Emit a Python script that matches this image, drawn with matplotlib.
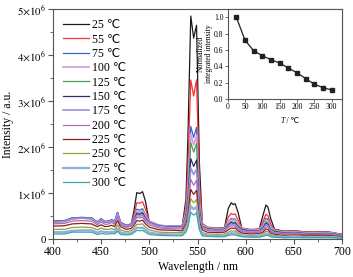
import matplotlib
matplotlib.use("Agg")
import matplotlib.pyplot as plt
from matplotlib.ticker import MultipleLocator, FuncFormatter

plt.rcParams['font.family'] = ['Liberation Serif', 'DejaVu Sans', 'Noto Sans CJK SC']
plt.rcParams['mathtext.fontset'] = 'stix'

# ---------------- data ----------------
temps = ['25', '55', '75', '100', '125', '150', '175', '200', '225', '250', '275', '300']

wavelength = [400, 412, 420, 430, 440, 446, 450, 454, 458, 461, 464, 467, 470, 476, 481,
              484, 487, 490, 493, 496, 500, 510, 525, 534, 538, 540, 543, 546, 549, 552,
              555, 560, 570, 578, 582, 585, 587, 589, 592, 596, 605, 614, 618, 621, 623,
              626, 630, 640, 650, 660, 670, 683, 690, 700]

# intensities in units of 1e6
i25 = [.37, .38, .44, .45, .44, .35, .41, .36, .37, .40, .36, .52, .35, .27, .30, .61, 1.01, .99, 1.03, .82,
       .36, .28, .26, .26, .86, 2.18, 4.85, 4.37, 4.65, 1.63, .32, .25, .23, .24, .67, .79, .75, .77, .59, .23,
       .20, .21, .52, .74, .70, .44, .21, .17, .18, .16, .15, .16, .14, .10]
i55 = [.38, .39, .45, .46, .45, .36, .43, .37, .38, .41, .37, .56, .36, .29, .32, .52, .79, .78, .81, .65,
       .39, .30, .28, .28, .72, 1.56, 3.46, 3.11, 3.46, 1.21, .34, .26, .24, .25, .48, .56, .53, .55, .42, .24,
       .21, .22, .38, .54, .51, .32, .21, .17, .18, .16, .15, .16, .14, .10]
i75 = [.39, .40, .46, .47, .46, .37, .44, .38, .39, .42, .38, .58, .37, .30, .33, .46, .65, .63, .66, .53,
       .39, .30, .28, .28, .59, 1.10, 2.45, 2.21, 2.43, .85, .32, .25, .23, .24, .38, .45, .43, .44, .34, .23,
       .20, .21, .32, .45, .43, .27, .20, .16, .17, .15, .14, .15, .14, .09]
i100 = [.38, .39, .45, .46, .45, .36, .43, .37, .38, .41, .37, .56, .36, .29, .32, .44, .61, .60, .62, .50,
        .38, .29, .27, .27, .56, 1.03, 2.28, 2.05, 2.25, .79, .31, .24, .22, .23, .36, .42, .40, .41, .32, .22,
        .19, .20, .29, .41, .39, .25, .18, .15, .16, .14, .13, .14, .13, .08]
i125 = [.38, .39, .45, .46, .45, .36, .43, .37, .38, .41, .37, .55, .36, .28, .31, .42, .57, .56, .58, .46,
        .36, .28, .26, .26, .53, .95, 2.10, 1.89, 2.08, .73, .29, .23, .21, .22, .32, .38, .36, .37, .29, .21,
        .18, .19, .26, .37, .35, .22, .17, .14, .15, .13, .12, .13, .12, .08]
i150 = [.39, .40, .46, .47, .46, .37, .44, .38, .39, .42, .38, .58, .37, .29, .32, .41, .55, .54, .56, .45,
        .36, .28, .26, .26, .49, .79, 1.75, 1.58, 1.72, .60, .28, .22, .20, .21, .31, .36, .34, .35, .27, .20,
        .17, .18, .24, .34, .32, .20, .16, .13, .14, .12, .11, .12, .11, .07]
i175 = [.38, .39, .45, .46, .45, .36, .43, .37, .38, .41, .37, .57, .36, .28, .31, .39, .51, .50, .52, .42,
        .35, .27, .25, .25, .46, .70, 1.55, 1.40, 1.52, .53, .27, .21, .19, .20, .28, .33, .31, .32, .25, .18,
        .16, .17, .22, .31, .29, .19, .14, .12, .13, .11, .10, .11, .10, .07]
i200 = [.33, .34, .39, .40, .39, .31, .37, .32, .33, .36, .32, .48, .31, .25, .28, .35, .47, .46, .48, .38,
        .31, .24, .22, .22, .40, .59, 1.30, 1.17, 1.28, .45, .24, .19, .17, .18, .25, .29, .28, .28, .22, .16,
        .14, .15, .19, .27, .26, .16, .13, .11, .12, .10, .10, .10, .09, .06]
i225 = [.28, .29, .33, .34, .33, .27, .31, .27, .28, .30, .27, .40, .27, .21, .23, .30, .40, .39, .41, .33,
        .26, .20, .19, .18, .33, .49, 1.08, .97, 1.06, .37, .20, .15, .14, .15, .20, .24, .23, .24, .18, .13,
        .11, .12, .15, .22, .21, .13, .10, .08, .09, .08, .08, .08, .07, .05]
i250 = [.21, .21, .25, .26, .25, .20, .24, .21, .21, .23, .20, .31, .20, .16, .18, .24, .32, .32, .33, .26,
        .20, .15, .14, .14, .26, .40, .88, .79, .86, .30, .14, .11, .10, .11, .15, .18, .17, .18, .14, .09,
        .08, .08, .12, .17, .16, .10, .08, .06, .07, .06, .06, .06, .05, .04]
i275 = [.15, .15, .18, .19, .19, .14, .17, .15, .15, .16, .15, .23, .14, .12, .13, .18, .25, .24, .25, .20,
        .14, .11, .10, .10, .20, .32, .72, .65, .70, .25, .10, .08, .07, .07, .11, .13, .12, .13, .10, .07,
        .06, .06, .08, .12, .11, .07, .05, .04, .05, .04, .04, .04, .04, .02]
i300 = [.11, .11, .15, .15, .15, .10, .12, .11, .11, .12, .11, .17, .10, .09, .10, .14, .19, .18, .19, .15,
        .10, .08, .07, .07, .15, .26, .58, .52, .57, .20, .07, .06, .05, .05, .08, .09, .09, .09, .07, .05,
        .04, .04, .06, .08, .08, .05, .04, .03, .03, .03, .03, .03, .03, .02]

spectra = [i25, i55, i75, i100, i125, i150, i175, i200, i225, i250, i275, i300]

inset_T = [25, 50, 75, 100, 125, 150, 175, 200, 225, 250, 275, 300]
inset_norm = [1.00, 0.72, 0.59, 0.53, 0.48, 0.44, 0.38, 0.32, 0.25, 0.18, 0.14, 0.11]

colors = ['#1a1a1a', '#ff3030', '#3a62d0', '#d8a0e0', '#4a9a5a', '#2d2d6b',
          '#9b8fe0', '#b26ab8', '#8b1f1f', '#9c9c3a', '#8fb0dc', '#3aa6a6']
widths = [0.9, 0.9, 0.9, 1.3, 0.9, 0.9, 1.2, 0.9, 0.9, 0.9, 1.6, 0.9]

# ---------------- figure ----------------
fig = plt.figure(figsize=(3.53, 2.77), dpi=100)
ax = fig.add_axes([0.150, 0.137, 0.819, 0.830])

for t, y, c, lw in zip(temps, spectra, colors, widths):
    assert len(y) == len(wavelength)
    ax.plot(wavelength, [v * 1e6 for v in y], color=c, lw=lw, label=f'{t} \u2103')

ax.set_xlim(400, 700)
ax.set_ylim(0, 5e6)
ax.xaxis.set_major_locator(MultipleLocator(50))
ax.xaxis.set_minor_locator(MultipleLocator(25))
ax.yaxis.set_major_locator(MultipleLocator(1e6))
ax.yaxis.set_minor_locator(MultipleLocator(0.5e6))


def yfmt(v, pos):
    n = int(round(v / 1e6))
    if n == 0:
        return '0'
    return r'$%d{\times}10^{6}$' % n


ax.yaxis.set_major_formatter(FuncFormatter(yfmt))
spine_c = '#555555'
for s in ax.spines.values():
    s.set_color(spine_c)
    s.set_linewidth(0.8)
ax.tick_params(which='both', direction='out', color=spine_c, top=False, right=False,
               labelsize=8.5, pad=1.5)
ax.tick_params(axis='y', labelsize=7.8)
ax.tick_params(which='major', length=3.5)
ax.tick_params(which='minor', length=2)
ax.set_xlabel('Wavelength / nm', fontsize=8.5, labelpad=2)
ax.set_ylabel('Intensity / a.u.', fontsize=8.5, labelpad=2)

leg = ax.legend(loc='upper left', frameon=False, fontsize=8.5, labelspacing=0.2,
                handlelength=2.2, handletextpad=0.3, borderaxespad=0.45, borderpad=0.4)

# ---------------- inset ----------------
ins = fig.add_axes([0.645, 0.6426, 0.324, 0.3244])
ins.plot(inset_T, inset_norm, color='#222222', lw=0.9, marker='s', ms=3.2,
         markerfacecolor='#222222', markeredgecolor='#222222')
ins.set_xlim(0, 330)
ins.set_ylim(0, 1.1)
ins.set_xticks([0, 50, 100, 150, 200, 250, 300])
ins.set_yticks([0.0, 0.2, 0.4, 0.6, 0.8, 1.0])
ins.yaxis.set_major_formatter(FuncFormatter(lambda v, p: f'{v:.1f}'))
for s in ins.spines.values():
    s.set_color(spine_c)
    s.set_linewidth(0.8)
ins.tick_params(direction='out', length=2, width=0.6, color=spine_c, labelsize=5.5, pad=1)
# x label: italic T followed by " / ℃"
ins.text(0.5, -0.20, 'T', transform=ins.transAxes, fontsize=5.5, style='italic',
         ha='right', va='top')
ins.text(0.5, -0.20, '\u2009/ \u2103', transform=ins.transAxes, fontsize=5.5,
         ha='left', va='top', family=['Liberation Serif', 'DejaVu Sans'])
ins.set_ylabel('Normalized\nintegrated intensity', fontsize=5.5, labelpad=1, linespacing=1.0)

fig.savefig('out.png', dpi=100)
